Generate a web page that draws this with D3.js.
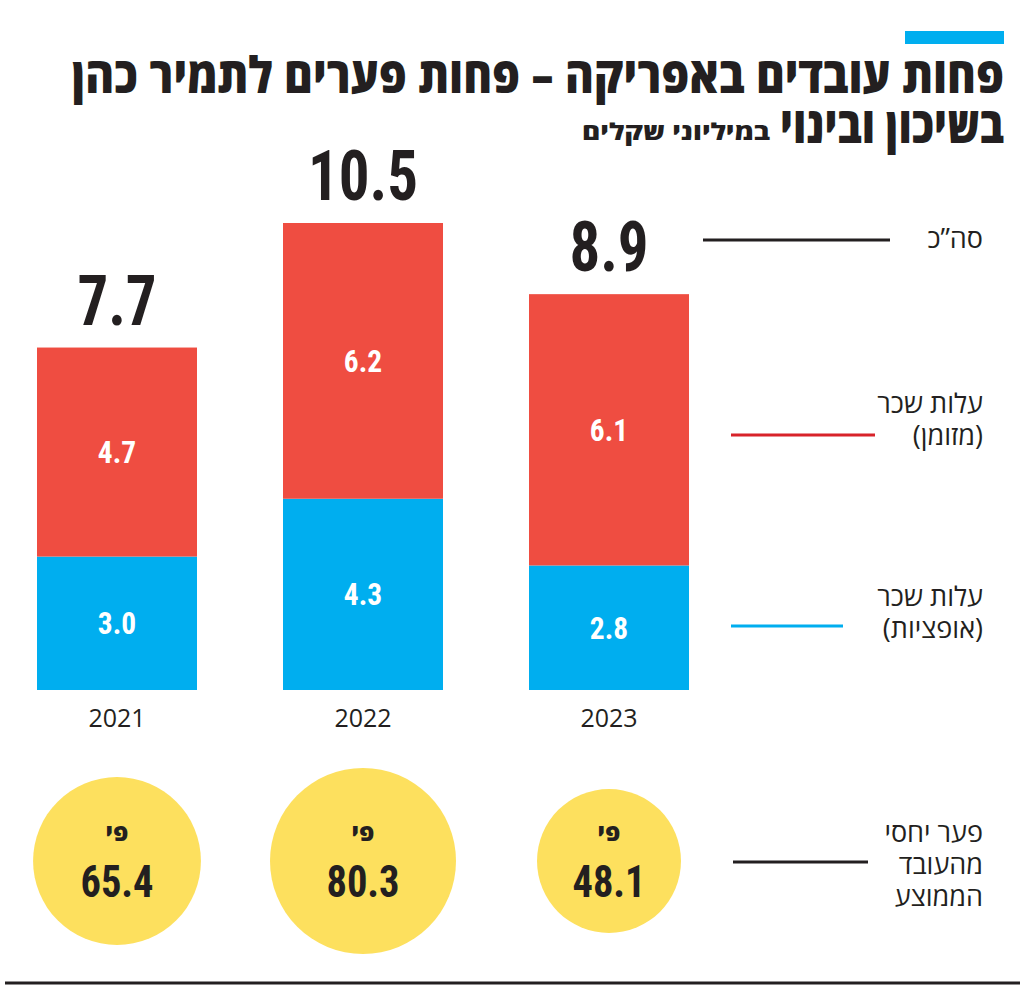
<!DOCTYPE html>
<html><head><meta charset="utf-8">
<script src="https://cdn.jsdelivr.net/npm/d3@7"></script>
<style>
html,body{margin:0;padding:0;background:#fff;}
svg{display:block;}
</style></head>
<body>
<svg id="chart" width="1024" height="993"></svg>
<script>
const years = ["2021", "2022", "2023"];
const optionsCost = [3.0, 4.3, 2.8];
const cashCost = [4.7, 6.2, 6.1];
const totals = [7.7, 10.5, 8.9];
const ratios = [65.4, 80.3, 48.1];
const titleLine1 = "פחות עובדים באפריקה – פחות פערים לתמיר כהן";
const titleLine2 = "בשיכון ובינוי";
const unitText = "במיליוני שקלים";
const legendTotal = ["סה\u201Dכ"];
const legendCash = ["עלות שכר", "(מזומן)"];
const legendOptions = ["עלות שכר", "(אופציות)"];
const legendRatio = ["פער יחסי", "מהעובד", "הממוצע"];
const ratioPrefix = "פי";

const C = {red:"#ef4d41", blue:"#00aeef", yellow:"#fde05e", dark:"#231f20", redLine:"#d8232a"};
const numFont = "'Liberation Sans Narrow','Roboto Condensed','Arial Narrow',Roboto,sans-serif";
const hebFont = "'Open Sans','DejaVu Sans','Noto Sans',sans-serif";

const svg = d3.select("#chart");

// top accent
svg.append("rect").attr("x",905).attr("y",31).attr("width",99).attr("height",13).attr("fill",C.blue);

// title
svg.append("text").attr("x",1004).attr("y",93).attr("text-anchor","end")
  .attr("font-family",hebFont).attr("font-weight",800).attr("font-size",50)
  .attr("fill",C.dark).attr("textLength",932).attr("lengthAdjust","spacingAndGlyphs")
  .text(titleLine1);
svg.append("text").attr("x",1004).attr("y",143).attr("text-anchor","end")
  .attr("font-family",hebFont).attr("font-weight",800).attr("font-size",50)
  .attr("fill",C.dark).attr("textLength",224).attr("lengthAdjust","spacingAndGlyphs")
  .text(titleLine2);
svg.append("text").attr("x",770).attr("y",140).attr("text-anchor","end")
  .attr("font-family",hebFont).attr("font-weight",800).attr("font-size",23)
  .attr("fill",C.dark).attr("textLength",188).attr("lengthAdjust","spacingAndGlyphs")
  .text(unitText);

// scales
const x = d3.scaleBand().domain(years).range([37,689]).paddingInner(86/246).paddingOuter(0);
const y = d3.scaleLinear().domain([0,10.5]).range([690,223]);
const r = d3.scaleSqrt().domain([0,80.3]).range([0,93]);

const data = years.map((yr,i)=>({yr, opt:optionsCost[i], cash:cashCost[i], total:totals[i], ratio:ratios[i]}));
const cx = d => x(d.yr)+x.bandwidth()/2;

const g = svg.append("g");
g.selectAll("rect.opt").data(data).join("rect").attr("class","opt")
  .attr("x",d=>x(d.yr)).attr("width",x.bandwidth())
  .attr("y",d=>y(d.opt)).attr("height",d=>y(0)-y(d.opt)).attr("fill",C.blue);
g.selectAll("rect.cash").data(data).join("rect").attr("class","cash")
  .attr("x",d=>x(d.yr)).attr("width",x.bandwidth())
  .attr("y",d=>y(d.opt+d.cash)).attr("height",d=>y(d.opt)-y(d.opt+d.cash)).attr("fill",C.red);

function numText(sel, cls, fx, fy, size, fill, sx, fmt){
  sel.selectAll("text."+cls).data(data).join("text").attr("class",cls)
    .attr("transform",d=>`translate(${fx(d)},${fy(d)}) scale(${sx},1)`)
    .attr("text-anchor","middle")
    .attr("font-family",numFont).attr("font-weight",700).attr("font-size",size).attr("fill",fill)
    .text(fmt);
}
numText(g,"optl",cx,d=>(y(0)+y(d.opt))/2+11,31,"#fff",0.95,d=>d.opt.toFixed(1));
numText(g,"cashl",cx,d=>(y(d.opt)+y(d.opt+d.cash))/2+11,31,"#fff",0.95,d=>d.cash.toFixed(1));
numText(g,"tot",cx,d=>y(d.total)-23,70,C.dark,0.87,d=>d.total.toFixed(1));

g.selectAll("text.yr").data(data).join("text")
  .attr("x",cx).attr("y",727)
  .attr("text-anchor","middle")
  .attr("font-family",hebFont).attr("font-size",25).attr("fill",C.dark)
  .text(d=>d.yr);

// circles
const cy = 861;
g.selectAll("circle.rat").data(data).join("circle")
  .attr("cx",cx).attr("cy",cy).attr("r",d=>r(d.ratio)).attr("fill",C.yellow);
g.selectAll("text.pi").data(data).join("text")
  .attr("x",cx).attr("y",cy-20)
  .attr("text-anchor","middle")
  .attr("font-family",hebFont).attr("font-weight",800).attr("font-size",24).attr("fill",C.dark)
  .text(ratioPrefix);
numText(g,"rv",cx,()=>cy+36,45,C.dark,0.9,d=>d.ratio.toFixed(1));

// legends
function legend(lines, firstBaseline, lx1, lx2, ly, color){
  lines.forEach((t,i)=>{
    svg.append("text").attr("x",983).attr("y",firstBaseline+i*32).attr("text-anchor","end")
      .attr("font-family",hebFont).attr("font-size",27).attr("fill",C.dark).text(t);
  });
  svg.append("line").attr("x1",lx1).attr("x2",lx2).attr("y1",ly).attr("y2",ly)
    .attr("stroke",color).attr("stroke-width",3);
}
legend(legendTotal, 248, 703, 890, 240, C.dark);
legend(legendCash, 413, 731, 875, 435, C.redLine);
legend(legendOptions, 606, 731, 843, 626, C.blue);
legend(legendRatio, 842, 733, 868, 862, C.dark);

svg.append("line").attr("x1",5).attr("x2",1020).attr("y1",983).attr("y2",983)
  .attr("stroke",C.dark).attr("stroke-width",3);
</script>
</body></html>
